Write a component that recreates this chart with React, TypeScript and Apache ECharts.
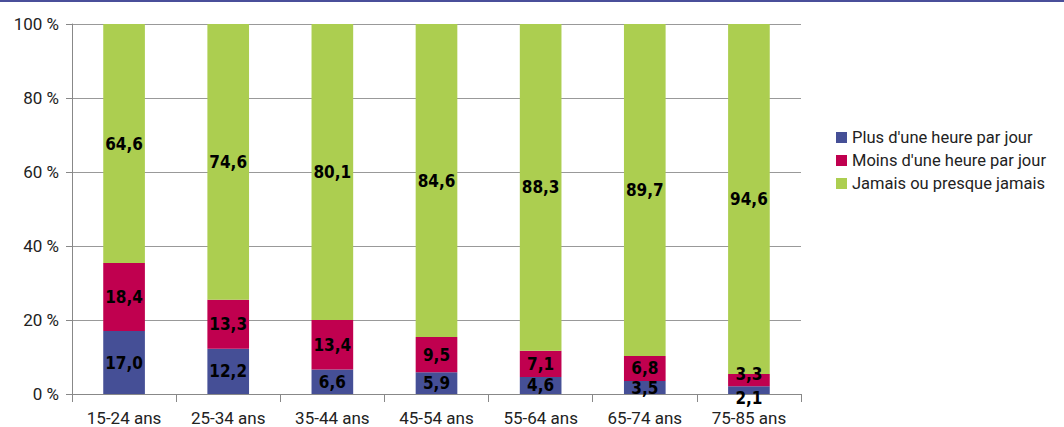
import React, { useEffect, useRef } from "react";
import * as echarts from "echarts";

const categories = ["15-24 ans", "25-34 ans", "35-44 ans", "45-54 ans", "55-64 ans", "65-74 ans", "75-85 ans"];
const plusUneHeure = [17.0, 12.2, 6.6, 5.9, 4.6, 3.5, 2.1];
const moinsUneHeure = [18.4, 13.3, 13.4, 9.5, 7.1, 6.8, 3.3];
const jamais = [64.6, 74.6, 80.1, 84.6, 88.3, 89.7, 94.6];
const seriesNames = ["Plus d'une heure par jour", "Moins d'une heure par jour", "Jamais ou presque jamais"];
const colors = ["#454f96", "#c0004f", "#acce50"];

const fmt = (v: number) => v.toFixed(1).replace(".", ",");

export default function App() {
  const ref = useRef<HTMLDivElement>(null);
  useEffect(() => {
    const chart = echarts.init(ref.current!, undefined, { renderer: "svg" });
    const labelStyle = {
      show: true,
      position: "inside" as const,
      color: "#000",
      fontWeight: "bold" as const,
      fontSize: 17,
      fontFamily: "DejaVu Sans Condensed",
      formatter: (p: any) => fmt(p.value),
    };
    const mk = (i: number, values: any[]) => ({
      name: seriesNames[i],
      type: "bar",
      stack: "total",
      barWidth: "40%",
      itemStyle: { color: colors[i] },
      label: labelStyle,
      data: values,
    });
    const last = categories.length - 1;
    // The two thin segments of the last bar get their labels pushed apart
    const firstData = plusUneHeure.map((v, i) =>
      i === last ? { value: v, label: { offset: [0, 8] } } : v
    );
    const secondData = moinsUneHeure.map((v, i) =>
      i === last ? { value: v, label: { offset: [0, -6] } } : v
    );
    chart.setOption({
      animation: false,
      graphic: [
        { type: "rect", shape: { x: 0, y: 0, width: 1064, height: 2 }, style: { fill: "#4a4f9a" } },
      ],
      grid: { left: 72, right: 263, top: 24, bottom: 33 },
      legend: {
        orient: "vertical",
        left: 831,
        top: 124,
        itemWidth: 11,
        itemHeight: 11,
        itemGap: 6,
        icon: "rect",
        textStyle: { fontSize: 16.5, color: "#222", fontFamily: "Roboto" },
        data: seriesNames,
      },
      xAxis: {
        type: "category",
        data: categories,
        axisLine: { lineStyle: { color: "#888" } },
        axisTick: { show: true, length: 8, lineStyle: { color: "#888" } },
        axisLabel: { color: "#222", fontSize: 17, fontFamily: "Roboto", margin: 15 },
      },
      yAxis: {
        type: "value",
        min: 0,
        max: 100,
        interval: 20,
        axisLine: { show: true, lineStyle: { color: "#888" } },
        axisTick: { show: true, length: 6, lineStyle: { color: "#888" } },
        splitLine: { lineStyle: { color: "#999" } },
        axisLabel: { color: "#222", fontSize: 17, fontFamily: "Roboto", margin: 13, formatter: (v: number) => v + " %" },
      },
      series: [mk(0, firstData), mk(1, secondData), mk(2, jamais)],
    });
    return () => chart.dispose();
  }, []);
  return <div ref={ref} style={{ width: 1064, height: 427, position: "absolute", left: 0, top: 0 }} />;
}
